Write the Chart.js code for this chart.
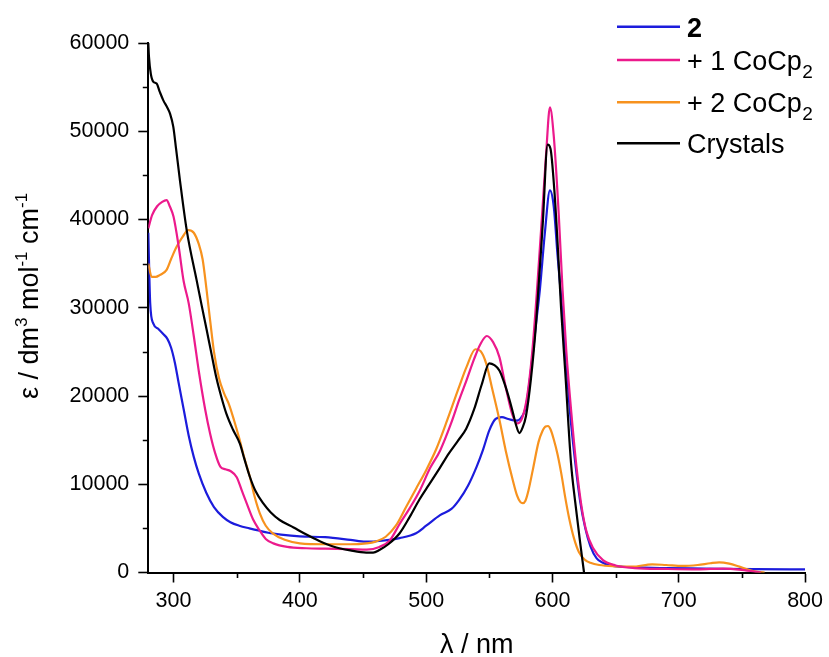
<!DOCTYPE html>
<html>
<head>
<meta charset="utf-8">
<script src="https://cdn.jsdelivr.net/npm/chart.js@4/dist/chart.umd.min.js"></script>
<style>
  html, body { margin: 0; padding: 0; background: #ffffff; }
  #wrap { width: 829px; height: 657px; position: relative; }
</style>
</head>
<body>
<div id="wrap"><canvas id="c" width="829" height="657"></canvas></div>
<script>
// ---------- Data ----------
const seriesLabels = ["2", "+ 1 CoCp\u2082", "+ 2 CoCp\u2082", "Crystals"];
const seriesColors = ["#1c1cdc", "#ec1a8c", "#f7921e", "#000000"];

// Series "2"
const wl2 = [280, 281.5, 284, 288, 292, 295, 298, 301, 304, 308, 312, 316, 320, 326, 332, 339, 345, 352, 360, 366, 375, 385, 400, 420, 440, 452, 465, 479, 492, 500, 511, 520, 526, 533, 540, 545, 550, 555, 560, 565, 571, 575, 579, 583, 587, 590, 594, 598, 601, 604, 607, 610, 614, 618, 622, 626, 630, 635, 640, 645, 663, 690, 720, 760, 800];
const eps2 = [38500, 30500, 28200, 27600, 27000, 26500, 25500, 23800, 21500, 18500, 15500, 13100, 11200, 9000, 7400, 6300, 5700, 5300, 5000, 4800, 4500, 4300, 4100, 4000, 3700, 3500, 3600, 3900, 4450, 5300, 6500, 7200, 8200, 9800, 12000, 13900, 16100, 17400, 17600, 17400, 17200, 17500, 18800, 23000, 28200, 32000, 38500, 43300, 41500, 36000, 31000, 25500, 18000, 12500, 8000, 5000, 3000, 1600, 1100, 800, 600, 500, 450, 380, 350];

// Series "+ 1 CoCp2"
const wl1 = [280, 283, 287, 291, 294.5, 297, 300, 304, 308, 312, 316, 320, 325, 329, 333, 337, 341, 345, 350, 354, 358, 363, 368, 373, 379, 390, 405, 420, 440, 453, 463, 471, 479, 487, 495, 503, 511, 520, 526, 532, 538, 543, 548, 553, 558, 563, 568, 572, 576, 580, 584, 588, 592, 595, 598, 601, 605, 608, 611, 615, 619, 623, 627, 632, 640, 650, 665, 690, 715, 735, 750, 765];
const eps1 = [39000, 40500, 41500, 42000, 42200, 41500, 40300, 37000, 33000, 30500, 26800, 22800, 18500, 15700, 13500, 12000, 11700, 11500, 10800, 9300, 7800, 6000, 4800, 3800, 3300, 2900, 2750, 2700, 2650, 2600, 2900, 3600, 5500, 7300, 9300, 11800, 13800, 17000, 19500, 21800, 24200, 25900, 26800, 26100, 24400, 21000, 18000, 16900, 17500, 20000, 25000, 32500, 41000, 47500, 52700, 49500, 40500, 32000, 25000, 18000, 12000, 7500, 4600, 2800, 1400, 800, 500, 400, 350, 450, 300, 0];

// Series "+ 2 CoCp2"
const wlB = [280, 282.7, 286, 289, 294.5, 298, 302.4, 307, 311.6, 316, 320, 323, 326, 329, 332, 336, 340, 344, 348, 352, 356, 360.4, 364, 368.3, 373, 378.8, 388, 400, 420, 440, 452.6, 460, 468, 476, 484, 492, 500, 508, 516, 526, 532, 539, 543, 547.5, 552, 558, 563, 568.5, 572, 574.5, 576.5, 578.5, 581, 584.4, 589, 592, 594.5, 596.5, 598.5, 601, 604, 607, 610, 613, 617, 621, 626, 630, 637, 650, 663, 679, 690, 703, 715, 725, 732, 740, 748, 758, 768];
const epsB = [35000, 33500, 33500, 33700, 34300, 35500, 36900, 38000, 38800, 38500, 37200, 35500, 32200, 28500, 25000, 22000, 20300, 19000, 17200, 15200, 13000, 10850, 8700, 6700, 5300, 4400, 3700, 3300, 3200, 3200, 3300, 3500, 4050, 5300, 7400, 9500, 11600, 14000, 17000, 21000, 23300, 25300, 25100, 23700, 21000, 17300, 13800, 10500, 8700, 8000, 7850, 8100, 9300, 11600, 14800, 16000, 16550, 16600, 16200, 15100, 13400, 11200, 8600, 6300, 3900, 2300, 1400, 1100, 850, 700, 660, 930, 850, 740, 850, 1050, 1150, 1000, 660, 200, 0];

// Series "Crystals"
const wlC = [280, 280.5, 282, 284, 286.6, 289, 291.9, 295, 297.2, 299.8, 302, 305, 310.4, 318.3, 322.2, 326.2, 330, 334, 338, 341.8, 347, 352.5, 356, 360.4, 365, 370.9, 377, 384, 395, 405.2, 415, 426.3, 440, 452.6, 458, 463, 470, 479, 487, 494.8, 502, 510.6, 518, 525, 531.7, 538, 544, 550, 554, 558, 563, 568, 571, 573.8, 576, 579, 583, 587, 592.3, 596.2, 598.5, 601.5, 604, 606.8, 610, 614.7, 618, 621.3, 625];
const epsC = [60000, 58500, 56500, 55600, 55400, 54500, 53500, 52700, 52000, 50500, 48000, 44500, 38800, 33100, 30300, 27500, 24800, 22000, 19800, 18000, 16200, 14600, 12900, 10850, 9200, 7850, 6800, 5950, 5100, 4300, 3600, 2950, 2500, 2250, 2250, 2550, 3200, 4450, 6300, 8300, 9900, 11800, 13500, 14900, 16300, 18500, 21300, 23700, 23500, 22900, 21000, 18500, 16800, 15800, 16300, 17700, 22000, 28200, 39500, 48500, 48000, 43300, 37500, 30000, 23000, 12400, 8000, 4100, 0];

// Axis ticks
const xMajorTicks = [300, 400, 500, 600, 700, 800];
const xMinorTicks = [350, 450, 550, 650, 750];
const yMajorTicks = [0, 10000, 20000, 30000, 40000, 50000, 60000];
const yMinorTicks = [5000, 15000, 25000, 35000, 45000, 55000];
const xRange = [280, 800];
const yRange = [0, 60000];

// ---------- Build chart ----------
function pts(xs, ys) { return xs.map((x, i) => ({ x: x, y: ys[i] })); }
const seriesData = [pts(wl2, eps2), pts(wl1, eps1), pts(wlB, epsB), pts(wlC, epsC)];

const FONT = "'Liberation Sans', Arial, Helvetica, sans-serif";

const datasets = seriesData.map((d, i) => ({
  label: seriesLabels[i],
  data: d,
  borderColor: seriesColors[i],
  backgroundColor: seriesColors[i],
  borderWidth: 2.2,
  pointRadius: 0,
  cubicInterpolationMode: 'monotone',
  fill: false,
  order: [3, 1, 2, 0][i]
}));

const decorPlugin = {
  id: 'decor',
  afterDraw(chart) {
    const ctx = chart.ctx;
    const xs = chart.scales.x, ys = chart.scales.y;
    const area = chart.chartArea;
    ctx.save();
    // minor ticks
    ctx.strokeStyle = '#000';
    ctx.lineWidth = 1.6;
    ctx.beginPath();
    xMinorTicks.forEach(v => {
      const px = Math.round(xs.getPixelForValue(v)) + 0.5;
      ctx.moveTo(px, area.bottom);
      ctx.lineTo(px, area.bottom + 5.5);
    });
    yMinorTicks.forEach(v => {
      const py = Math.round(ys.getPixelForValue(v)) + 0.5;
      ctx.moveTo(area.left, py);
      ctx.lineTo(area.left - 5.5, py);
    });
    ctx.stroke();

    // x axis title
    ctx.fillStyle = '#000';
    ctx.textBaseline = 'alphabetic';
    ctx.font = '27px ' + FONT;
    ctx.textAlign = 'center';
    ctx.fillText('\u03bb / nm', (area.left + area.right) / 2, 653);

    // y axis title (rotated, with superscripts)
    const parts = [
      { t: '\u03b5 / dm', sup: false },
      { t: '3', sup: true },
      { t: ' mol', sup: false },
      { t: '-1', sup: true },
      { t: ' cm', sup: false },
      { t: '-1', sup: true }
    ];
    const mainF = '27px ' + FONT, supF = '17px ' + FONT;
    let total = 0;
    parts.forEach(p => { ctx.font = p.sup ? supF : mainF; p.w = ctx.measureText(p.t).width; total += p.w; });
    ctx.translate(38, 296);
    ctx.rotate(-Math.PI / 2);
    ctx.textAlign = 'left';
    let cx = -total / 2;
    parts.forEach(p => {
      ctx.font = p.sup ? supF : mainF;
      ctx.fillText(p.t, cx, p.sup ? -11 : 0);
      cx += p.w;
    });
    ctx.setTransform(1, 0, 0, 1, 0, 0);

    // legend
    const rowsY = [26.7, 60, 102.3, 143.3];
    const lx0 = 617, lx1 = 680, tx = 687;
    seriesLabels.forEach((lab, i) => {
      const y = rowsY[i];
      ctx.strokeStyle = seriesColors[i];
      ctx.lineWidth = 2.5;
      ctx.beginPath();
      ctx.moveTo(lx0, y);
      ctx.lineTo(lx1, y);
      ctx.stroke();
      ctx.fillStyle = '#000';
      ctx.textAlign = 'left';
      ctx.textBaseline = 'alphabetic';
      const base = y + 9.8;
      const sub = lab.indexOf('\u2082');
      if (sub >= 0) {
        const main = lab.slice(0, sub);
        ctx.font = '27px ' + FONT;
        ctx.fillText(main, tx, base);
        const w = ctx.measureText(main).width;
        ctx.font = '19px ' + FONT;
        ctx.fillText('2', tx + w + 0.5, base + 8);
      } else {
        ctx.font = (i === 0 ? 'bold ' : '') + '27px ' + FONT;
        ctx.fillText(lab, tx, base);
      }
    });
    ctx.restore();
  }
};

new Chart(document.getElementById('c'), {
  type: 'line',
  data: { datasets: datasets },
  options: {
    responsive: false,
    animation: false,
    devicePixelRatio: 1,
    layout: { padding: { top: 43, right: 22, left: 0, bottom: 0 } },
    plugins: { legend: { display: false }, tooltip: { enabled: false } },
    scales: {
      x: {
        type: 'linear',
        min: xRange[0],
        max: xRange[1],
        afterBuildTicks: s => { s.ticks = xMajorTicks.map(v => ({ value: v })); },
        afterFit: s => { s.height = 84.5; },
        grid: { drawOnChartArea: false, drawTicks: true, tickLength: 10, tickWidth: 1.6, tickColor: '#000' },
        border: { display: true, color: '#000', width: 2 },
        ticks: { color: '#000', font: { family: FONT, size: 21.5 }, padding: 6, maxRotation: 0, autoSkip: false },
        title: { display: false }
      },
      y: {
        type: 'linear',
        min: yRange[0],
        max: yRange[1],
        afterBuildTicks: s => { s.ticks = yMajorTicks.map(v => ({ value: v })); },
        afterFit: s => { s.width = 148.3; },
        grid: { drawOnChartArea: false, drawTicks: true, tickLength: 10, tickWidth: 1.6, tickColor: '#000' },
        border: { display: true, color: '#000', width: 2 },
        ticks: { color: '#000', font: { family: FONT, size: 21.5 }, padding: 9, autoSkip: false, callback: v => String(v) },
        title: { display: false }
      }
    }
  },
  plugins: [decorPlugin]
});
</script>
</body>
</html>
